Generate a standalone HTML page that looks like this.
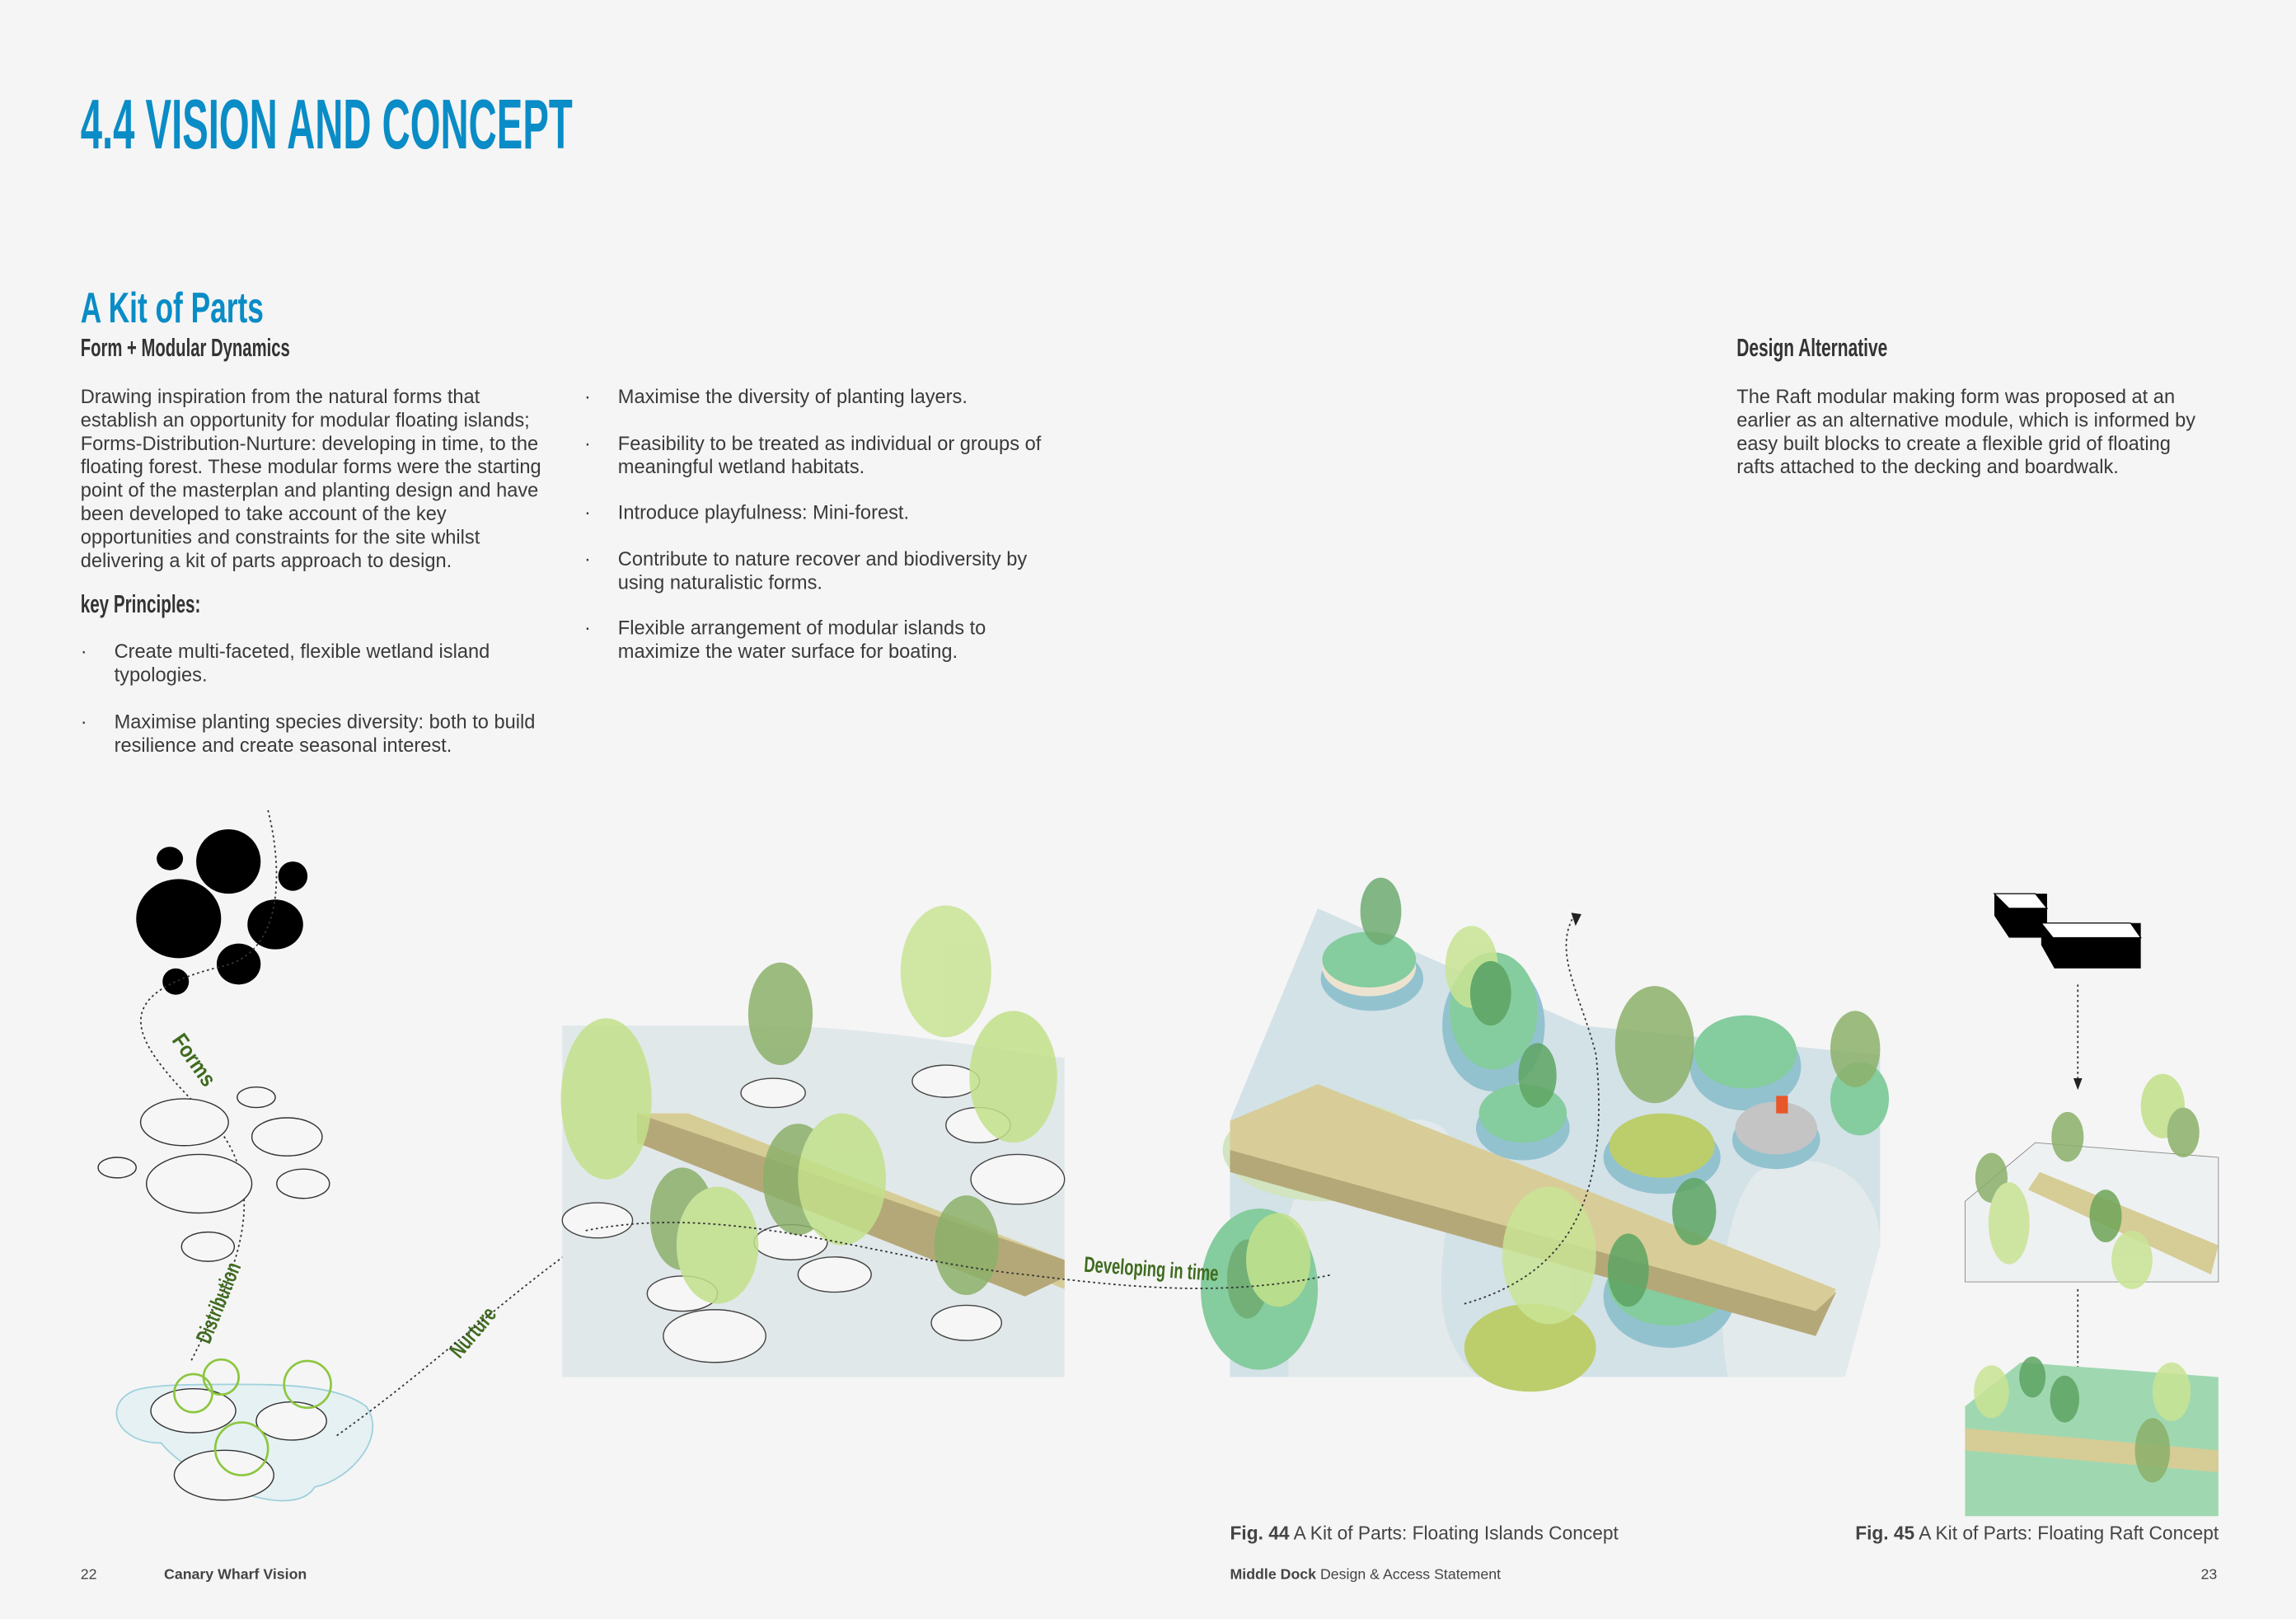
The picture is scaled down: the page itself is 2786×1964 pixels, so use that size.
<!DOCTYPE html>
<html><head><meta charset="utf-8"><style>
html,body{margin:0;padding:0;background:#f5f5f5;}
svg{display:block}
.b{font-family:"Liberation Sans",sans-serif;font-size:13.3px;fill:#3a3a3a}
.h{font-family:"Liberation Sans Narrow","Liberation Sans",sans-serif;font-weight:bold}
</style></head><body>
<svg width="2786" height="1964" viewBox="0 0 1568 1105" xmlns="http://www.w3.org/2000/svg">
<rect width="1568" height="1105" fill="#f5f5f5"/>
<text class="h" x="55" y="101" font-size="48" fill="#0a8cc6" textLength="336" lengthAdjust="spacingAndGlyphs">4.4 VISION AND CONCEPT</text>
<text class="h" x="55" y="220" font-size="29" fill="#0a8cc6" textLength="125" lengthAdjust="spacingAndGlyphs">A Kit of Parts</text>
<text class="h" x="55" y="243" font-size="17" fill="#333" textLength="143" lengthAdjust="spacingAndGlyphs">Form + Modular Dynamics</text>
<text class="h" x="1186" y="243" font-size="17" fill="#333" textLength="103" lengthAdjust="spacingAndGlyphs">Design Alternative</text>
<text class="h" x="55" y="418" font-size="17" fill="#333" textLength="82" lengthAdjust="spacingAndGlyphs">key Principles:</text>
<g class="b">
<text x="55" y="275">Drawing inspiration from the natural forms that</text>
<text x="55" y="291">establish an opportunity for modular floating islands;</text>
<text x="55" y="307">Forms-Distribution-Nurture: developing in time, to the</text>
<text x="55" y="323">floating forest. These modular forms were the starting</text>
<text x="55" y="339">point of the masterplan and planting design and have</text>
<text x="55" y="355">been developed to take account of the key</text>
<text x="55" y="371">opportunities and constraints for the site whilst</text>
<text x="55" y="387">delivering a kit of parts approach to design.</text>
<text x="55" y="449">·</text><text x="78" y="449">Create multi-faceted, flexible wetland island</text>
<text x="78" y="465">typologies.</text>
<text x="55" y="497">·</text><text x="78" y="497">Maximise planting species diversity: both to build</text>
<text x="78" y="513">resilience and create seasonal interest.</text>
<text x="399" y="275">·</text><text x="422" y="275">Maximise the diversity of planting layers.</text>
<text x="399" y="307">·</text><text x="422" y="307">Feasibility to be treated as individual or groups of</text>
<text x="422" y="323">meaningful wetland habitats.</text>
<text x="399" y="354">·</text><text x="422" y="354">Introduce playfulness: Mini-forest.</text>
<text x="399" y="386">·</text><text x="422" y="386">Contribute to nature recover and biodiversity by</text>
<text x="422" y="402">using naturalistic forms.</text>
<text x="399" y="433">·</text><text x="422" y="433">Flexible arrangement of modular islands to</text>
<text x="422" y="449">maximize the water surface for boating.</text>
<text x="1186" y="275">The Raft modular making form was proposed at an</text>
<text x="1186" y="291">earlier as an alternative module, which is informed by</text>
<text x="1186" y="307">easy built blocks to create a flexible grid of floating</text>
<text x="1186" y="323">rafts attached to the decking and boardwalk.</text>
</g>

<!-- left diagram -->
<g fill="#000">
<ellipse cx="156" cy="588" rx="22" ry="22"/><ellipse cx="122" cy="627" rx="29" ry="27"/><ellipse cx="116" cy="586" rx="9" ry="8"/>
<ellipse cx="200" cy="598" rx="10" ry="10"/><ellipse cx="188" cy="631" rx="19" ry="17"/><ellipse cx="163" cy="658" rx="15" ry="14"/><ellipse cx="120" cy="670" rx="9" ry="9"/>
</g>
<path d="M183 553 C190 580 200 650 150 660 C70 680 90 710 140 760 C190 810 160 870 130 930" fill="none" stroke="#333" stroke-dasharray="1.5 2" stroke-width="1"/>
<g fill="#f6f6f6" stroke="#333" stroke-width="0.8">
<ellipse cx="175" cy="749" rx="13" ry="7"/><ellipse cx="126" cy="766" rx="30" ry="16"/><ellipse cx="196" cy="776" rx="24" ry="13"/>
<ellipse cx="80" cy="797" rx="13" ry="7"/><ellipse cx="136" cy="808" rx="36" ry="20"/><ellipse cx="207" cy="808" rx="18" ry="10"/><ellipse cx="142" cy="851" rx="18" ry="10"/>
</g>
<path d="M90 950 C70 960 80 985 110 985 C130 1010 200 1040 215 1015 C240 1010 265 980 250 960 C230 945 190 945 160 945 C130 945 100 945 90 950Z" fill="#e6f1f3" stroke="#9fd0dc" stroke-width="1"/>
<g fill="#f6f6f6" stroke="#333" stroke-width="0.8">
<ellipse cx="132" cy="963" rx="29" ry="15"/><ellipse cx="199" cy="970" rx="24" ry="13"/><ellipse cx="153" cy="1007" rx="34" ry="17"/>
</g>
<g fill="none" stroke="#8cc63f" stroke-width="1.5">
<circle cx="132" cy="951" r="13"/><circle cx="151" cy="940" r="12"/><circle cx="210" cy="945" r="16"/><circle cx="165" cy="989" r="18"/>
</g>
<text class="h" font-size="15" fill="#3f6b1f" transform="translate(117 710) rotate(55)" textLength="40" lengthAdjust="spacingAndGlyphs">Forms</text>
<text class="h" font-size="15" fill="#3f6b1f" transform="translate(143 918) rotate(-68)" textLength="58" lengthAdjust="spacingAndGlyphs">Distribution</text>
<text class="h" font-size="15" fill="#3f6b1f" transform="translate(314 928) rotate(-50)" textLength="40" lengthAdjust="spacingAndGlyphs">Nurture</text>
<path d="M230 980 C300 930 350 880 410 840" fill="none" stroke="#333" stroke-dasharray="1.5 2"/>

<!-- middle image -->
<path d="M384 700 L520 700 C600 700 700 720 727 722 L727 940 L384 940Z" fill="#e1e8ea"/>
<path d="M435 760 L727 880 L727 860 L470 760Z" fill="#d6cc96"/>
<path d="M435 780 L700 885 L727 872 L727 860 L435 760Z" fill="#b5a878"/>
<g fill="#f6f6f6" stroke="#444" stroke-width="0.8">
<ellipse cx="528" cy="746" rx="22" ry="10"/><ellipse cx="646" cy="738" rx="23" ry="11"/><ellipse cx="668" cy="768" rx="22" ry="12"/><ellipse cx="695" cy="805" rx="32" ry="17"/>
<ellipse cx="408" cy="833" rx="24" ry="12"/><ellipse cx="540" cy="848" rx="25" ry="12"/><ellipse cx="570" cy="870" rx="25" ry="12"/><ellipse cx="466" cy="883" rx="24" ry="12"/><ellipse cx="488" cy="912" rx="35" ry="18"/><ellipse cx="660" cy="903" rx="24" ry="12"/>
</g>
<g opacity="0.85">
<ellipse cx="414" cy="750" rx="31" ry="55" fill="#c2e08a"/><ellipse cx="533" cy="692" rx="22" ry="35" fill="#8cb06a"/>
<ellipse cx="646" cy="663" rx="31" ry="45" fill="#c9e494"/><ellipse cx="692" cy="735" rx="30" ry="45" fill="#c2e08a"/>
<ellipse cx="466" cy="832" rx="22" ry="35" fill="#8cb06a"/><ellipse cx="545" cy="805" rx="24" ry="38" fill="#8cb06a"/><ellipse cx="575" cy="805" rx="30" ry="45" fill="#c2e08a"/>
<ellipse cx="490" cy="850" rx="28" ry="40" fill="#c2e08a"/><ellipse cx="660" cy="850" rx="22" ry="34" fill="#8cb06a"/>
</g>

<!-- right big image -->
<path d="M840 765 L900 620 L1080 700 L1284 720 L1284 850 L1240 940 L840 940Z" fill="#d3e2e7"/>
<path d="M880 830 C900 760 990 750 990 780 C1000 820 960 900 1010 940 L880 940Z" fill="#e3eaec"/>
<path d="M1200 800 C1240 780 1284 800 1284 850 L1260 940 L1180 940 C1170 880 1180 820 1200 800Z" fill="#e3eaec"/>
<ellipse cx="905" cy="785" rx="70" ry="35" fill="#d2e4c0"/>
<g>
<ellipse cx="937" cy="668" rx="35" ry="22" fill="#93c2cf"/><ellipse cx="935" cy="660" rx="32" ry="20" fill="#ece3cf"/><ellipse cx="935" cy="655" rx="32" ry="19" fill="#85cc9e"/>
<ellipse cx="1020" cy="700" rx="35" ry="45" fill="#93c2cf"/><ellipse cx="1020" cy="690" rx="30" ry="40" fill="#85cc9e"/>
<ellipse cx="1040" cy="770" rx="32" ry="22" fill="#93c2cf"/><ellipse cx="1040" cy="760" rx="30" ry="20" fill="#85cc9e"/>
<ellipse cx="1192" cy="728" rx="38" ry="30" fill="#93c2cf"/><ellipse cx="1192" cy="718" rx="35" ry="25" fill="#85cc9e"/>
<ellipse cx="1213" cy="778" rx="30" ry="20" fill="#93c2cf"/><ellipse cx="1213" cy="770" rx="28" ry="18" fill="#c4c4c4"/>
<ellipse cx="1135" cy="790" rx="40" ry="25" fill="#93c2cf"/><ellipse cx="1135" cy="782" rx="36" ry="22" fill="#bccd6c"/>
<ellipse cx="1270" cy="750" rx="20" ry="25" fill="#85cc9e"/>
<ellipse cx="1140" cy="885" rx="45" ry="35" fill="#93c2cf"/><ellipse cx="1140" cy="875" rx="42" ry="30" fill="#85cc9e"/>
<ellipse cx="1045" cy="920" rx="45" ry="30" fill="#bccd6c"/>
<ellipse cx="860" cy="880" rx="40" ry="55" fill="#85cc9e"/>
</g>
<path d="M840 772 L840 800 L1240 912 L1254 882 L855 770Z" fill="#b5a878"/>
<path d="M840 765 L1254 882 L1240 895 L840 785Z" fill="#d8cd98"/>
<path d="M840 765 L900 740 L1254 880 L1240 895Z" fill="#d8cd98"/>
<g opacity="0.85">
<ellipse cx="943" cy="622" rx="14" ry="23" fill="#6fac72"/><ellipse cx="1005" cy="660" rx="18" ry="28" fill="#c9e494"/><ellipse cx="1018" cy="678" rx="14" ry="22" fill="#5ea463"/>
<ellipse cx="1050" cy="734" rx="13" ry="22" fill="#5ea463"/><ellipse cx="1130" cy="713" rx="27" ry="40" fill="#8cb06a"/><ellipse cx="1267" cy="716" rx="17" ry="26" fill="#8cb06a"/>
<ellipse cx="1058" cy="857" rx="32" ry="47" fill="#c9e494"/><ellipse cx="1112" cy="867" rx="14" ry="25" fill="#5ea463"/><ellipse cx="1157" cy="827" rx="15" ry="23" fill="#5ea463"/>
<ellipse cx="852" cy="873" rx="14" ry="27" fill="#6fac72"/><ellipse cx="873" cy="860" rx="22" ry="32" fill="#c2e08a"/>
</g>
<rect x="1213" y="748" width="8" height="12" fill="#e8572a"/>
<path d="M1000 890 C1070 870 1100 820 1090 720 C1080 680 1060 650 1075 625" fill="none" stroke="#333" stroke-dasharray="1.5 2"/>
<path d="M1073 623 L1080 624 L1076 632Z" fill="#222"/>

<path d="M400 840 C500 820 600 860 700 870 C780 880 840 885 910 870" fill="none" stroke="#333" stroke-dasharray="1.5 2"/>
<text class="h" font-size="15" fill="#3f6b1f" x="740" y="868" transform="rotate(4 740 868)" textLength="92" lengthAdjust="spacingAndGlyphs">Developing in time</text>

<!-- right small -->
<path d="M1362 610 L1398 610 L1398 640 L1372 640 L1362 625Z" fill="#000"/>
<path d="M1362 610 L1372 620 L1398 620 L1390 610Z" fill="#fff" stroke="#000" stroke-width="0.7"/>
<path d="M1394 630 L1462 630 L1462 661 L1403 661 L1394 645Z" fill="#000"/>
<path d="M1394 630 L1402 640 L1462 640 L1455 630Z" fill="#fff" stroke="#000" stroke-width="0.7"/>
<path d="M1419 672 L1419 738" stroke="#333" stroke-dasharray="1.5 2"/><path d="M1416 736 L1422 736 L1419 744Z" fill="#222"/>
<path d="M1419 880 L1419 950" stroke="#333" stroke-dasharray="1.5 2"/><path d="M1416 948 L1422 948 L1419 956Z" fill="#222"/>
<path d="M1342 820 L1390 780 L1515 790 L1515 875 L1342 875Z" fill="#eef1f2" stroke="#888" stroke-width="0.5"/>
<path d="M1385 812 L1510 870 L1515 850 L1393 800Z" fill="#d6cc96"/>
<g opacity="0.85"><ellipse cx="1360" cy="804" rx="11" ry="17" fill="#8cb06a"/><ellipse cx="1412" cy="776" rx="11" ry="17" fill="#8cb06a"/><ellipse cx="1477" cy="755" rx="15" ry="22" fill="#c2e08a"/><ellipse cx="1491" cy="773" rx="11" ry="17" fill="#8cb06a"/><ellipse cx="1438" cy="830" rx="11" ry="18" fill="#6fa558"/><ellipse cx="1372" cy="835" rx="14" ry="28" fill="#c9e494"/><ellipse cx="1456" cy="860" rx="14" ry="20" fill="#c9e494"/></g>
<path d="M1342 960 L1380 930 L1515 940 L1515 1035 L1342 1035Z" fill="#9fd8b0"/>
<path d="M1342 975 L1515 990 L1515 1005 L1342 990Z" fill="#d6cc96"/>
<g opacity="0.85"><ellipse cx="1360" cy="950" rx="12" ry="18" fill="#c9e494"/><ellipse cx="1388" cy="940" rx="9" ry="14" fill="#5ea463"/><ellipse cx="1483" cy="950" rx="13" ry="20" fill="#c9e494"/><ellipse cx="1470" cy="990" rx="12" ry="22" fill="#8cb06a"/><ellipse cx="1410" cy="955" rx="10" ry="16" fill="#5ea463"/></g>

<g font-family="Liberation Sans,sans-serif" font-size="12.8" fill="#444">
<text x="840" y="1051"><tspan font-weight="bold">Fig. 44</tspan> A Kit of Parts: Floating Islands Concept</text>
<text x="1267" y="1051"><tspan font-weight="bold">Fig. 45</tspan> A Kit of Parts: Floating Raft Concept</text>
</g>
<g font-family="Liberation Sans,sans-serif" font-size="10" fill="#444">
<text x="55" y="1078">22</text><text x="112" y="1078" font-weight="bold">Canary Wharf Vision</text>
<text x="840" y="1078"><tspan font-weight="bold">Middle Dock</tspan> Design &amp; Access Statement</text>
<text x="1503" y="1078">23</text>
</g>
</svg>
</body></html>
